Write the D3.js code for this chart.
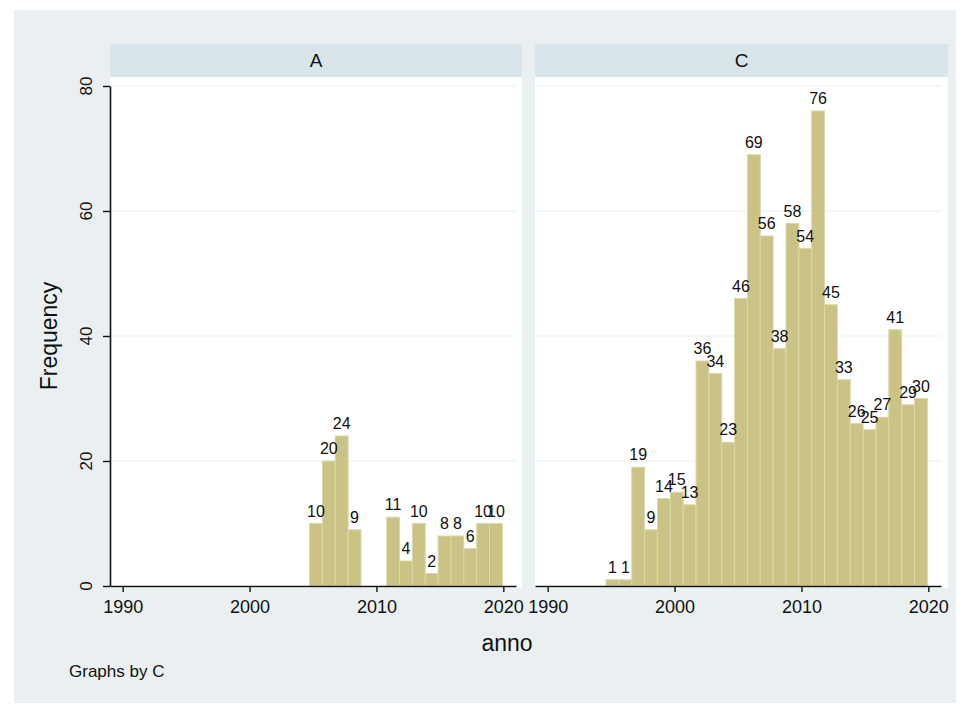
<!DOCTYPE html>
<html>
<head>
<meta charset="utf-8">
<script src="https://cdn.jsdelivr.net/npm/d3@7"></script>
<style>
  body { margin: 0; background: #fff; }
  svg { display: block; font-family: "Liberation Sans", Arial, sans-serif; }
</style>
</head>
<body>
<div id="chart"></div>
<script>
// --- data ---
const panels = ["A", "C"];
const binStart = 1994.6;   // left edge of first bin (year)
const binWidth = 1.013;    // bin width (years)
const countsA = [0, 0, 0, 0, 0, 0, 0, 0, 0, 0, 10, 20, 24, 9, 0, 0, 11, 4, 10, 2, 8, 8, 6, 10, 10];
const countsC = [1, 1, 19, 9, 14, 15, 13, 36, 34, 23, 46, 69, 56, 38, 58, 54, 76, 45, 33, 26, 25, 27, 41, 29, 30];
const yTicks = [0, 20, 40, 60, 80];
const xTicks = [1990, 2000, 2010, 2020];

const W = 965, H = 706;
const svg = d3.select("#chart").append("svg")
    .attr("width", W)
    .attr("height", H);

// outer graph region
svg.append("rect")
    .attr("x", 14).attr("y", 10)
    .attr("width", 942).attr("height", 693)
    .attr("fill", "#eaf0f2");

// --- scales ---
const y = d3.scaleLinear().domain([0, 80]).range([586, 86]);
const panelLeft = { A: 110, C: 535 };
const panelW = 406;
const plotRight = { A: 522, C: 948 };
const countsBy = { A: countsA, C: countsC };

panels.forEach(p => {
    const x0 = panelLeft[p];
    const x = d3.scaleLinear().domain([1989, 2021]).range([x0, x0 + panelW]);
    const g = svg.append("g");

    // strip header
    g.append("rect")
        .attr("x", x0).attr("y", 44)
        .attr("width", plotRight[p] - x0).attr("height", 33)
        .attr("fill", "#d9e5eb");
    g.append("text")
        .attr("x", (x0 + plotRight[p]) / 2).attr("y", 67)
        .attr("text-anchor", "middle")
        .style("font-size", "19px")
        .attr("fill", "#111")
        .text(p);

    // plot region
    g.append("rect")
        .attr("x", x0).attr("y", 77)
        .attr("width", plotRight[p] - x0).attr("height", 511)
        .attr("fill", "#fff");

    // gridlines
    g.selectAll(".grid")
        .data(yTicks.filter(d => d > 0))
        .join("line")
        .attr("x1", x.range()[0]).attr("x2", x.range()[1])
        .attr("y1", d => y(d)).attr("y2", d => y(d))
        .attr("stroke", "#e8eff1")
        .attr("stroke-width", 1.2);

    // bars
    const bins = countsBy[p].map((c, i) => ({
        x0: binStart + i * binWidth,
        x1: binStart + (i + 1) * binWidth,
        c
    })).filter(d => d.c > 0);

    g.selectAll(".bar")
        .data(bins)
        .join("rect")
        .attr("x", d => x(d.x0))
        .attr("y", d => y(d.c))
        .attr("width", d => x(d.x1) - x(d.x0))
        .attr("height", d => y(0) - y(d.c))
        .attr("fill", "#cbc386")
        .attr("stroke", "#dcd8ab")
        .attr("stroke-width", 1);

    // value labels
    g.selectAll(".lbl")
        .data(bins)
        .join("text")
        .attr("x", d => (x(d.x0) + x(d.x1)) / 2)
        .attr("y", d => y(d.c) - 7)
        .attr("text-anchor", "middle")
        .style("font-size", "16px")
        .attr("fill", "#111")
        .text(d => d.c);

    // x axis
    const xAxis = g.append("g")
        .attr("transform", `translate(0, ${y(0)})`)
        .call(d3.axisBottom(x).tickValues(xTicks).tickFormat(d3.format("d")).tickSize(6).tickSizeOuter(0).tickPadding(8));
    xAxis.select(".domain").attr("stroke", "#111").attr("stroke-width", 1.6);
    xAxis.selectAll(".tick line").attr("stroke", "#111").attr("stroke-width", 1.4);
    xAxis.selectAll("text").style("font-size", "18px").attr("fill", "#111")
        .attr("font-family", "Liberation Sans, Arial, sans-serif");

    // y axis only on first panel
    if (p === "A") {
        const yAxis = g.append("g")
            .attr("transform", `translate(${x0}, 0)`)
            .call(d3.axisLeft(y).tickValues(yTicks).tickSize(7).tickSizeOuter(0).tickFormat(""));
        yAxis.select(".domain").attr("stroke", "#111").attr("stroke-width", 1.6);
        yAxis.selectAll(".tick line").attr("stroke", "#111").attr("stroke-width", 1.4);
        g.selectAll(".ylbl")
            .data(yTicks)
            .join("text")
            .attr("transform", d => `translate(92, ${y(d)}) rotate(-90)`)
            .attr("text-anchor", "middle")
            .style("font-size", "17px")
            .attr("fill", "#111")
            .text(d => d);
    }
});

// axis titles and note
svg.append("text")
    .attr("transform", "translate(57, 336) rotate(-90)")
    .attr("text-anchor", "middle")
    .style("font-size", "23px")
    .attr("fill", "#111")
    .text("Frequency");

svg.append("text")
    .attr("x", 507).attr("y", 651)
    .attr("text-anchor", "middle")
    .style("font-size", "23px")
    .attr("fill", "#111")
    .text("anno");

svg.append("text")
    .attr("x", 69).attr("y", 677)
    .style("font-size", "17px")
    .attr("fill", "#111")
    .text("Graphs by C");
</script>
</body>
</html>
